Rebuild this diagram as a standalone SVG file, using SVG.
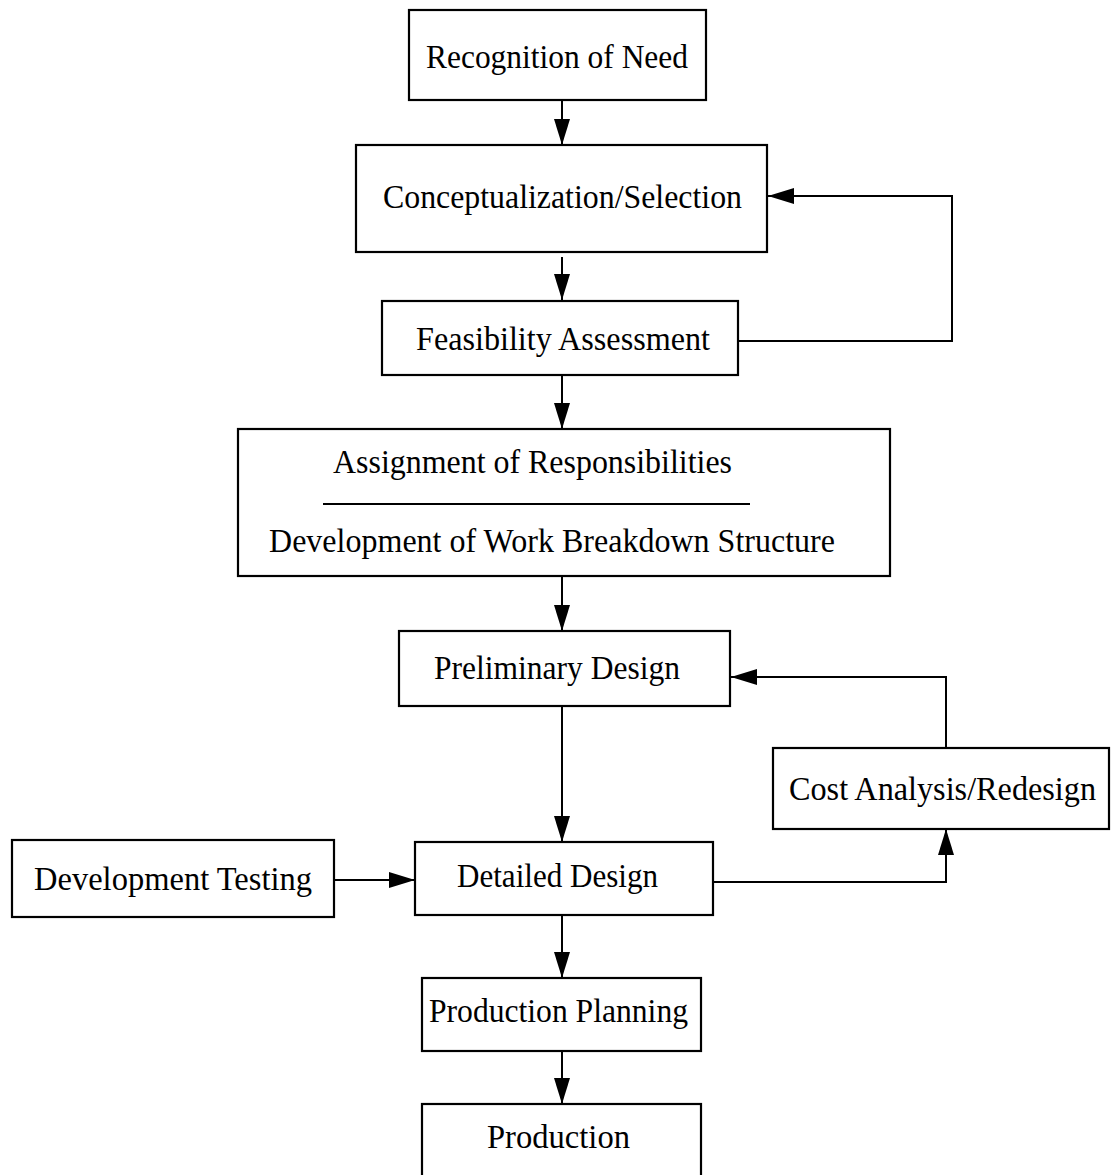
<svg xmlns="http://www.w3.org/2000/svg" width="1111" height="1175" viewBox="0 0 1111 1175">
  <style>
    .box { fill: #ffffff; stroke: #000000; stroke-width: 2.2; }
    .lbl { font-family: "Liberation Serif", "Times New Roman", serif; font-size: 34px; fill: #000000; }
    .edge { fill: none; stroke: #000000; stroke-width: 2; }
  </style>
  <defs>
    <marker id="arr" markerUnits="userSpaceOnUse" viewBox="0 0 26 18" refX="26" refY="9" markerWidth="26" markerHeight="18" orient="auto">
      <path d="M0,1 L26,9 L0,17 z" fill="#000000"/>
    </marker>
  </defs>
  <rect width="1111" height="1175" fill="#ffffff"/>

  <g id="n-recognition">
    <rect class="box" x="409" y="10" width="297" height="90"/>
    <text class="lbl" x="426" y="68" textLength="262" lengthAdjust="spacingAndGlyphs">Recognition of Need</text>
  </g>
  <g id="n-conceptualization">
    <rect class="box" x="356" y="145" width="411" height="107"/>
    <text class="lbl" x="383" y="208" textLength="359" lengthAdjust="spacingAndGlyphs">Conceptualization/Selection</text>
  </g>
  <g id="n-feasibility">
    <rect class="box" x="382" y="301" width="356" height="74"/>
    <text class="lbl" x="416" y="350" textLength="294" lengthAdjust="spacingAndGlyphs">Feasibility Assessment</text>
  </g>
  <g id="n-assignment">
    <rect class="box" x="238" y="429" width="652" height="147"/>
    <text class="lbl" x="333" y="473" textLength="399" lengthAdjust="spacingAndGlyphs">Assignment of Responsibilities</text>
    <line x1="323" y1="504" x2="750" y2="504" stroke="#000000" stroke-width="2"/>
    <text class="lbl" x="269" y="552" textLength="566" lengthAdjust="spacingAndGlyphs">Development of Work Breakdown Structure</text>
  </g>
  <g id="n-preliminary">
    <rect class="box" x="399" y="631" width="331" height="75"/>
    <text class="lbl" x="434" y="679" textLength="246" lengthAdjust="spacingAndGlyphs">Preliminary Design</text>
  </g>
  <g id="n-cost">
    <rect class="box" x="773" y="748" width="336" height="81"/>
    <text class="lbl" x="789" y="800" textLength="307" lengthAdjust="spacingAndGlyphs">Cost Analysis/Redesign</text>
  </g>
  <g id="n-devtesting">
    <rect class="box" x="12" y="840" width="322" height="77"/>
    <text class="lbl" x="34" y="890" textLength="278" lengthAdjust="spacingAndGlyphs">Development Testing</text>
  </g>
  <g id="n-detailed">
    <rect class="box" x="415" y="842" width="298" height="73"/>
    <text class="lbl" x="457" y="887" textLength="201" lengthAdjust="spacingAndGlyphs">Detailed Design</text>
  </g>
  <g id="n-prodplanning">
    <rect class="box" x="422" y="978" width="279" height="73"/>
    <text class="lbl" x="429" y="1022" textLength="259" lengthAdjust="spacingAndGlyphs">Production Planning</text>
  </g>
  <g id="n-production">
    <rect class="box" x="422" y="1104" width="279" height="80"/>
    <text class="lbl" x="487" y="1148" textLength="143" lengthAdjust="spacingAndGlyphs">Production</text>
  </g>

  <g id="connectors">
    <line class="edge" x1="562" y1="101" x2="562" y2="145" marker-end="url(#arr)"/>
    <line class="edge" x1="562" y1="257" x2="562" y2="300" marker-end="url(#arr)"/>
    <line class="edge" x1="562" y1="376" x2="562" y2="429" marker-end="url(#arr)"/>
    <line class="edge" x1="562" y1="577" x2="562" y2="631" marker-end="url(#arr)"/>
    <line class="edge" x1="562" y1="707" x2="562" y2="842" marker-end="url(#arr)"/>
    <line class="edge" x1="562" y1="916" x2="562" y2="978" marker-end="url(#arr)"/>
    <line class="edge" x1="562" y1="1052" x2="562" y2="1104" marker-end="url(#arr)"/>
    <polyline class="edge" points="739,341 952,341 952,196 768,196" marker-end="url(#arr)"/>
    <polyline class="edge" points="714,882 946,882 946,829" marker-end="url(#arr)"/>
    <polyline class="edge" points="946,748 946,677 731,677" marker-end="url(#arr)"/>
    <line class="edge" x1="335" y1="880" x2="415" y2="880" marker-end="url(#arr)"/>
  </g>
</svg>
